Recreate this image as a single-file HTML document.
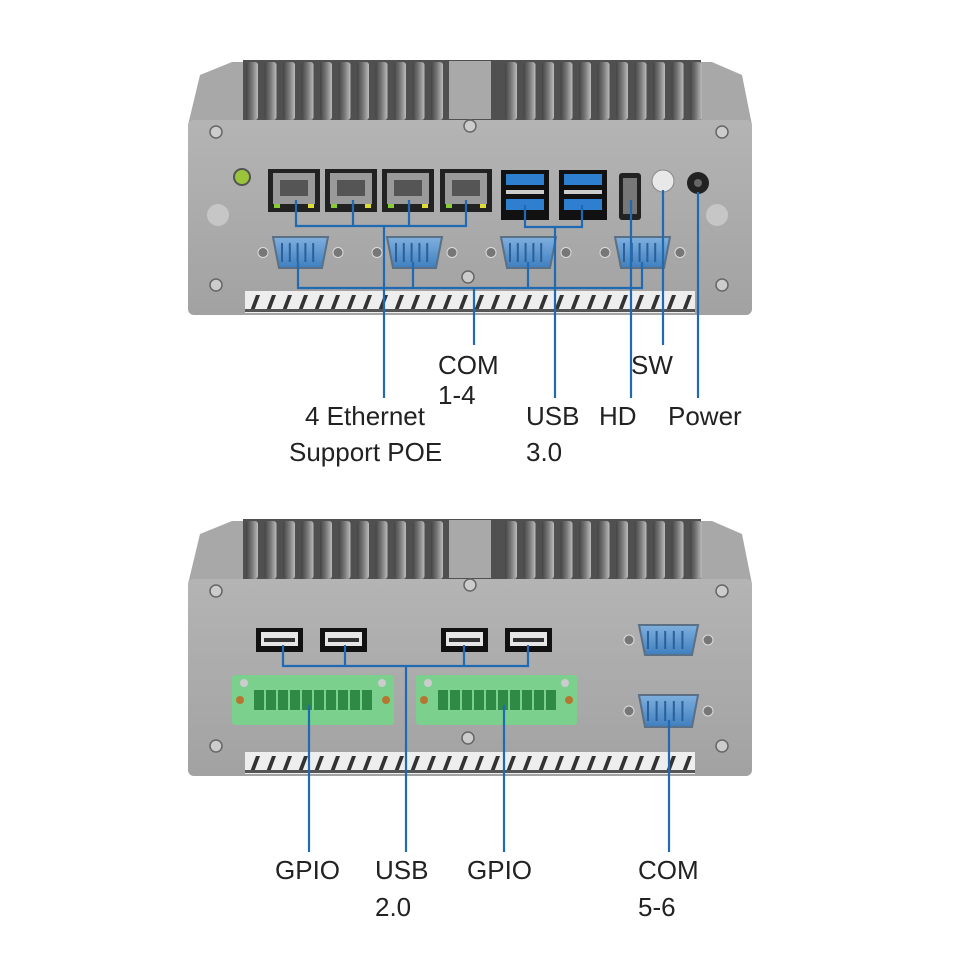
<!DOCTYPE html>
<html><head><meta charset="utf-8"><style>
html,body{margin:0;padding:0;background:#fff;}
svg{display:block}
text{font-family:"Liberation Sans","DejaVu Sans",sans-serif;font-size:26px;fill:#222;}
</style></head><body>
<svg id="s" width="960" height="960" viewBox="0 0 960 960" xmlns="http://www.w3.org/2000/svg">
<defs>
<linearGradient id="fin" x1="0" x2="1"><stop offset="0" stop-color="#444"/><stop offset="0.5" stop-color="#777"/><stop offset="1" stop-color="#bbb"/></linearGradient>
<linearGradient id="panel" x1="0" y1="0" x2="0" y2="1"><stop offset="0" stop-color="#b4b4b4"/><stop offset="1" stop-color="#a2a2a2"/></linearGradient>
<linearGradient id="blue" x1="0" y1="0" x2="0" y2="1"><stop offset="0" stop-color="#7fb0de"/><stop offset="1" stop-color="#3f7fc0"/></linearGradient>
</defs>
<g id="top"></g>
<g id="bot"></g>
<g id="lines" stroke="#1f6ab3" stroke-width="2.2" fill="none"></g>
<text x="438" y="374">COM</text>
<text x="438" y="404">1-4</text>
<text x="305" y="425">4 Ethernet</text>
<text x="289" y="461">Support POE</text>
<text x="526" y="425">USB</text>
<text x="526" y="461">3.0</text>
<text x="599" y="425">HD</text>
<text x="631" y="374">SW</text>
<text x="668" y="425">Power</text>
<text x="275" y="879">GPIO</text>
<text x="375" y="879">USB</text>
<text x="375" y="916">2.0</text>
<text x="467" y="879">GPIO</text>
<text x="638" y="879">COM</text>
<text x="638" y="916">5-6</text>
</svg>
<script>
const NS="http://www.w3.org/2000/svg";
function el(p,t,a){const e=document.createElementNS(NS,t);for(const k in a)e.setAttribute(k,a[k]);p.appendChild(e);return e;}
function chassis(g,y0,ph){
  const py=y0+60;
  el(g,'polygon',{points:`188,${py+5} 200,${y0+15} 232,${y0+2} 245,${y0+2} 245,${py} 700,${py} 700,${y0+2} 712,${y0+2} 742,${y0+15} 752,${py+5}`,fill:'#a8a8a8'});
  el(g,'rect',{x:243,y:y0,width:458,height:62,fill:'#505050'});
  for(let x=246;x<700;x+=18.5){ if(x>440&&x<495)continue; el(g,'rect',{x:x,y:y0+2,width:12,height:58,rx:3,fill:'url(#fin)'}); }
  el(g,'rect',{x:449,y:y0+1,width:42,height:58,fill:'#a9a9a9'});
  el(g,'rect',{x:188,y:py,width:564,height:ph,rx:6,fill:'url(#panel)'});
  const vy=py+ph-24;
  el(g,'rect',{x:245,y:vy,width:450,height:22,fill:'#eee'});
  for(let x=250;x<690;x+=16){ el(g,'polygon',{points:`${x},${vy+20} ${x+6},${vy+4} ${x+10},${vy+4} ${x+4},${vy+20}`,fill:'#333'}); }
  el(g,'rect',{x:245,y:vy+18,width:450,height:3,fill:'#555'});
  [[216,py+12],[722,py+12],[216,vy-6],[722,vy-6],[470,py+6],[468,vy-14]].forEach(([x,y])=>{el(g,'circle',{cx:x,cy:y,r:6,fill:'#ccc',stroke:'#666','stroke-width':1.5});});
}
function db9(g,x,y,w,h){
  el(g,'circle',{cx:x-10,cy:y+h/2,r:5,fill:'#777',stroke:'#ddd'});
  el(g,'circle',{cx:x+w+10,cy:y+h/2,r:5,fill:'#777',stroke:'#ddd'});
  el(g,'path',{d:`M${x},${y} h${w} l-6,${h} h-${w-12} z`,fill:'url(#blue)',stroke:'#5b6f85','stroke-width':2});
  for(let i=0;i<5;i++)el(g,'rect',{x:x+8+i*(w-16)/5,y:y+6,width:2,height:h-12,fill:'#2a5f98'});
}
const T=document.getElementById('top'),B=document.getElementById('bot');
chassis(T,60,195);
el(T,'circle',{cx:242,cy:177,r:8,fill:'#9ac43a',stroke:'#555','stroke-width':2});
el(T,'circle',{cx:218,cy:215,r:11,fill:'#c6c6c6'});el(T,'circle',{cx:717,cy:215,r:11,fill:'#c6c6c6'});
[268,325,382,440].forEach(x=>{el(T,'rect',{x:x,y:169,width:52,height:43,fill:'#222'});el(T,'rect',{x:x+5,y:173,width:42,height:31,fill:'#9a9a9a'});el(T,'rect',{x:x+12,y:180,width:28,height:16,fill:'#555'});el(T,'rect',{x:x+6,y:204,width:6,height:4,fill:'#8c3'});el(T,'rect',{x:x+40,y:204,width:6,height:4,fill:'#dd3'});});
[501,559].forEach(x=>{el(T,'rect',{x:x,y:170,width:48,height:50,fill:'#111'});el(T,'rect',{x:x+5,y:174,width:38,height:11,fill:'#2f7fd0'});el(T,'rect',{x:x+5,y:190,width:38,height:4,fill:'#ccc'});el(T,'rect',{x:x+5,y:199,width:38,height:11,fill:'#2f7fd0'});});
el(T,'rect',{x:619,y:173,width:22,height:47,rx:3,fill:'#222'});el(T,'rect',{x:623,y:178,width:14,height:36,fill:'#777'});
el(T,'circle',{cx:663,cy:181,r:11,fill:'#e8e8e8',stroke:'#888'});
el(T,'circle',{cx:698,cy:183,r:11,fill:'#222'});el(T,'circle',{cx:698,cy:183,r:4,fill:'#666'});
[273,387,501,615].forEach(x=>db9(T,x,237,55,31));
chassis(B,519,197);
[256,320,441,505].forEach(x=>{el(B,'rect',{x:x,y:628,width:47,height:24,fill:'#111'});el(B,'rect',{x:x+5,y:632,width:37,height:14,fill:'#e6e6e6'});el(B,'rect',{x:x+8,y:638,width:31,height:4,fill:'#333'});});
[[232,394],[416,577]].forEach(([a,b])=>{el(B,'rect',{x:a,y:675,width:b-a,height:50,rx:3,fill:'#7bd08d'});el(B,'circle',{cx:a+8,cy:700,r:4,fill:'#b5772f'});el(B,'circle',{cx:b-8,cy:700,r:4,fill:'#b5772f'});el(B,'circle',{cx:a+12,cy:683,r:4,fill:'#ccc'});el(B,'circle',{cx:b-12,cy:683,r:4,fill:'#ccc'});for(let i=0;i<10;i++){el(B,'rect',{x:a+22+i*12,y:690,width:10,height:20,fill:'#2f8a45'});}});
db9(B,639,625,59,30);db9(B,639,695,59,32);
const L=document.getElementById('lines');
const P=d=>el(L,'path',{d});
P('M296,200V226H466V200M353,200V226M409,200V226M384,226V398');
P('M525,205V227H582V205M555,227V398');
P('M631,200V398M663,190V345M698,192V398');
P('M298,262V288H642V262M413,262V288M528,262V288M474,288V345');
P('M283,645V666H528V645M345,645V666M464,645V666M406,666V852');
P('M309,705V852M504,705V852M669,720V852');
</script>
</body></html>
